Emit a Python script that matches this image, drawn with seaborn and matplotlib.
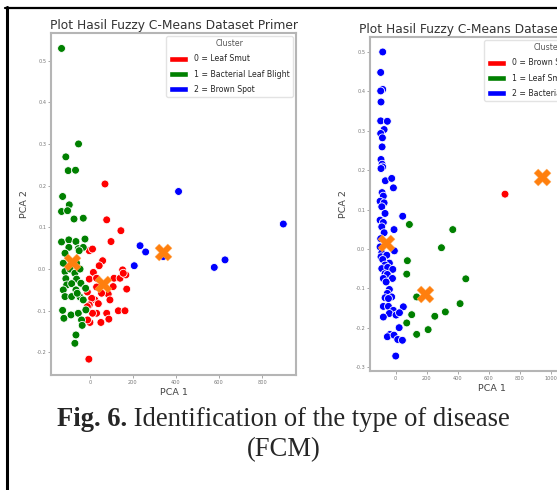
import pandas as pd
import numpy as np
import matplotlib
matplotlib.use("Agg")
import matplotlib.pyplot as plt
import seaborn as sns
from matplotlib import font_manager
from matplotlib.patches import Patch
from matplotlib.lines import Line2D

sns.set_theme(style="white")
font_names = {f.name for f in font_manager.fontManager.ttflist}
narrow = "Liberation Sans Narrow" in font_names
plt.rcParams['font.family'] = ['Liberation Sans Narrow', 'DejaVu Sans'] if narrow else ['DejaVu Sans']
k = 1.0 if narrow else 0.8   # DejaVu lebih lebar, kecilkan

# ---- dataset primer (kiri) ----
primer_title = "Plot Hasil Fuzzy C-Means Dataset Primer"
primer_labels = ["0 = Leaf Smut", "1 = Bacterial Leaf Blight", "2 = Brown Spot"]
primer_c0_x = [70, 78, 144, 98, -3, 12, 59, 43, 16, -3, 31, 112, 140, 152, 167, 155, 171, 85, 93,
               54, 31, 23, 8, -12, -3, -12, 39, 31, 12, 78, 88, 51, 0, -11, 132, 163, -5, 108]
primer_c0_y = [0.204, 0.118, 0.092, 0.066, 0.044, 0.048, 0.02, 0.008, -0.008, -0.024, -0.022, -0.022,
               -0.022, -0.002, -0.014, -0.01, -0.048, -0.06, -0.074, -0.058, -0.043, -0.074, -0.07,
               -0.055, -0.086, -0.09, -0.083, -0.106, -0.106, -0.106, -0.12, -0.128, -0.128, -0.122,
               -0.1, -0.1, -0.216, -0.042]
primer_c1_x = [-132, -112, -53, -101, -67, -127, -132, -96, -104, -74, -31, -132, -98, -65, -23, -98,
               -54, -31, -116, -50, -124, -62, -116, -93, -70, -46, -112, -62, -108, -85, -42, -124,
               -65, -116, -85, -46, -59, -20, -127, -121, -88, -54, -39, -36, -65, -70, -19, -31]
primer_c1_y = [0.529, 0.269, 0.30, 0.236, 0.237, 0.174, 0.138, 0.154, 0.14, 0.12, 0.122, 0.065, 0.07,
               0.066, 0.072, 0.052, 0.049, 0.052, 0.038, 0.044, 0.014, 0.014, -0.006, 0.0, -0.01, 0.0,
               -0.023, -0.024, -0.038, -0.035, -0.034, -0.05, -0.05, -0.066, -0.066, -0.067, -0.058,
               -0.046, -0.099, -0.118, -0.11, -0.106, -0.122, -0.135, -0.158, -0.178, -0.098, -0.074]
primer_c2_x = [206, 233, 259, 412, 578, 628, 899, 341]
primer_c2_y = [0.008, 0.056, 0.041, 0.186, 0.004, 0.022, 0.108, 0.03]
primer_cent_x = [-82, 59, 338]
primer_cent_y = [0.016, -0.035, 0.041]

# ---- dataset sekunder (kanan) ----
sekunder_title = "Plot Hasil Fuzzy C-Means Dataset Sekunder"
sekunder_labels = ["0 = Brown Spot", "1 = Leaf Smut", "2 = Bacterial Leaf Blight"]
sekunder_c0_x = [705]
sekunder_c0_y = [0.139]
sekunder_c1_x = [88, 368, 295, 75, 71, 452, 135, 415, 320, 103, 252, 71, 209, 135]
sekunder_c1_y = [0.062, 0.049, 0.003, -0.03, -0.064, -0.076, -0.122, -0.139, -0.16, -0.167, -0.171,
                 -0.188, -0.205, -0.217]
sekunder_c2_x = [-84, -97, -84, -97, -95, -97, -54, -75, -97, -86, -88, -95, -88, -84, -95, -67, -26,
                 -15, -88, -80, -101, -75, -90, -69, 45, -101, -80, -90, -11, -75, -97, -101, -9, -90,
                 -95, -58, -84, -41, -69, -90, -52, -19, -69, -54, -80, -21, -62, -41, -54, -69, -26,
                 -47, -80, -47, 49, -15, -41, 2, 24, -80, 22, -37, -54, -11, 13, 43, 0]
sekunder_c2_y = [0.50, 0.448, 0.405, 0.401, 0.373, 0.325, 0.324, 0.303, 0.293, 0.282, 0.259, 0.227,
                 0.215, 0.208, 0.204, 0.173, 0.179, 0.155, 0.143, 0.134, 0.121, 0.117, 0.107, 0.09,
                 0.083, 0.073, 0.067, 0.056, 0.049, 0.041, 0.026, 0.005, -0.005, -0.01, -0.02, -0.016,
                 -0.027, -0.036, -0.041, -0.05, -0.047, -0.052, -0.063, -0.065, -0.075, -0.075, -0.084,
                 -0.103, -0.113, -0.124, -0.122, -0.126, -0.146, -0.146, -0.147, -0.156, -0.164,
                 -0.168, -0.162, -0.173, -0.2, -0.217, -0.223, -0.219, -0.23, -0.232, -0.272]
sekunder_cent_x = [-62, 187, 946]
sekunder_cent_y = [0.014, -0.115, 0.183]

palette = {0: "red", 1: "green", 2: "blue"}


def make_df(xs, ys):
    parts = []
    for i, (x, y) in enumerate(zip(xs, ys)):
        parts.append(pd.DataFrame({"PCA 1": x, "PCA 2": y, "cluster": i}))
    return pd.concat(parts, ignore_index=True)


def plot_fcm(ax, df, cx, cy, labels, title, xlim, ylim, xticks, yticks):
    sns.scatterplot(data=df, x="PCA 1", y="PCA 2", hue="cluster", palette=palette,
                    s=32, edgecolor="white", linewidth=0.6, legend=False, ax=ax)
    sns.scatterplot(x=cx, y=cy, marker="X", color="#ff7f0e", s=150, linewidth=0.3,
                    edgecolor="#ffb060", ax=ax)
    ax.set_xlim(xlim)
    ax.set_ylim(ylim)
    ax.set_xticks(xticks)
    ax.set_yticks(yticks)
    ax.set_yticklabels([f"{v:.1f}" for v in yticks])
    ax.tick_params(left=True, bottom=True, length=2, width=0.6, color="#999999",
                   labelsize=4.5 * k, labelcolor="#777777", pad=1.5)
    for sp in ax.spines.values():
        sp.set_color("#b5b5b5")
        sp.set_linewidth(1.5)
    ax.set_xlabel("PCA 1", fontsize=8.5 * k, color="#444444", labelpad=2)
    ax.set_ylabel("PCA 2", fontsize=8.5 * k, color="#444444", labelpad=5)
    ax.set_title(title, fontsize=11 * k, color="#333333", pad=3)
    handles = [Patch(facecolor=palette[i], label=l) for i, l in enumerate(labels)]
    leg = ax.legend(handles=handles, title="Cluster", loc="upper right", fontsize=7 * k,
                    title_fontsize=7 * k, handlelength=2.4, handleheight=0.9,
                    borderaxespad=0.4, labelspacing=0.8, frameon=True)
    leg.get_frame().set_edgecolor("#dddddd")
    leg.get_title().set_color("#555555")


fig = plt.figure(figsize=(5.57, 4.9), dpi=100)
fig.patch.set_facecolor("white")

ax1 = fig.add_axes([51 / 557, 115 / 490, 245 / 557, 342 / 490])
plot_fcm(ax1, make_df([primer_c0_x, primer_c1_x, primer_c2_x], [primer_c0_y, primer_c1_y, primer_c2_y]),
         primer_cent_x, primer_cent_y, primer_labels, primer_title,
         (-181, 958), (-0.254, 0.566), [0, 200, 400, 600, 800],
         [-0.2, -0.1, 0.0, 0.1, 0.2, 0.3, 0.4, 0.5])

# panel kanan terpotong di tepi gambar
ax2 = fig.add_axes([370 / 557, 119 / 490, 244 / 557, 334 / 490])
plot_fcm(ax2, make_df([sekunder_c0_x, sekunder_c1_x, sekunder_c2_x],
                      [sekunder_c0_y, sekunder_c1_y, sekunder_c2_y]),
         sekunder_cent_x, sekunder_cent_y, sekunder_labels, sekunder_title,
         (-166, 1408), (-0.31, 0.538), [0, 200, 400, 600, 800, 1000, 1200],
         [-0.3, -0.2, -0.1, 0.0, 0.1, 0.2, 0.3, 0.4, 0.5])

# bingkai halaman
fig.add_artist(Line2D([5 / 557, 1], [482 / 490, 482 / 490], color="black", lw=1.6,
                      transform=fig.transFigure))
fig.add_artist(Line2D([7 / 557, 7 / 557], [0, 482.8 / 490], color="black", lw=2.2,
                      transform=fig.transFigure))

# caption
serif = ["Liberation Serif", "DejaVu Serif"]
t1 = fig.text(57 / 557, 1 - 420 / 490, "Fig. 6.", family=serif, weight="bold",
              fontsize=19.2, va="center", ha="left")
fig.canvas.draw()
bb = t1.get_window_extent()
fig.text(bb.x1 / fig.bbox.width, 1 - 420 / 490, " Identification of the type of disease",
         family=serif, fontsize=19.2, va="center", ha="left")
fig.text(284 / 557, 1 - 450 / 490, "(FCM)", family=serif, fontsize=19.2, va="center", ha="center")

plt.savefig("out.png", dpi=100)
